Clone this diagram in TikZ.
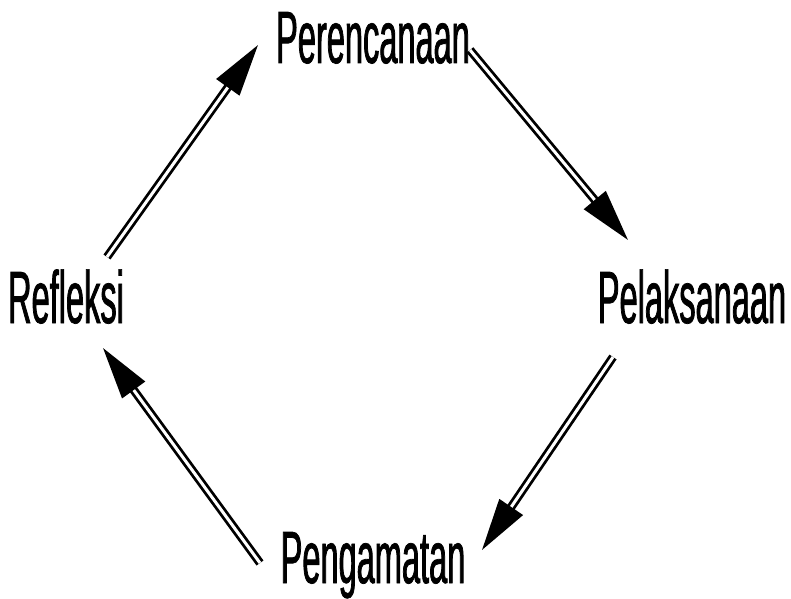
\documentclass[tikz,border=0pt]{standalone}
\usepackage{fontspec}
\usepackage{tikz}
\usetikzlibrary{positioning,arrows.meta}
\newfontfamily\narrowsans[FakeStretch=0.44,FakeBold=1]{Liberation Sans}
\tikzset{
  stagelabel/.style={inner sep=0pt, anchor=base, font=\narrowsans\fontsize{74}{80}\selectfont},
  cyclearrow/.style={-{Triangle[length=52pt,width=28pt,fill=black]}, draw=black, line width=2.8pt, double=white, double distance=3pt, shorten >=0pt}
}
\begin{document}
\begin{tikzpicture}[x=1pt, y=1pt]
  \useasboundingbox (0,0) rectangle (791,598);
  \node[stagelabel] (peren) at (373,535) {Perencanaan};
  \node[stagelabel] (pelak) at (692,275) {Pelaksanaan};
  \node[stagelabel] (penga) at (373,15) {Pengamatan};
  \node[stagelabel] (refl) at (66,275) {Refleksi};
  \draw[cyclearrow] ([shift={(41,66)}]refl.base) -- ([shift={(-115,18)}]peren.base);
  \draw[cyclearrow] ([shift={(97,13)}]peren.base) -- ([shift={(-64,83)}]pelak.base);
  \draw[cyclearrow] ([shift={(-79,-34)}]pelak.base) -- ([shift={(109,33)}]penga.base);
  \draw[cyclearrow] ([shift={(-113,20)}]penga.base) -- ([shift={(37,-25)}]refl.base);
\end{tikzpicture}
\end{document}
